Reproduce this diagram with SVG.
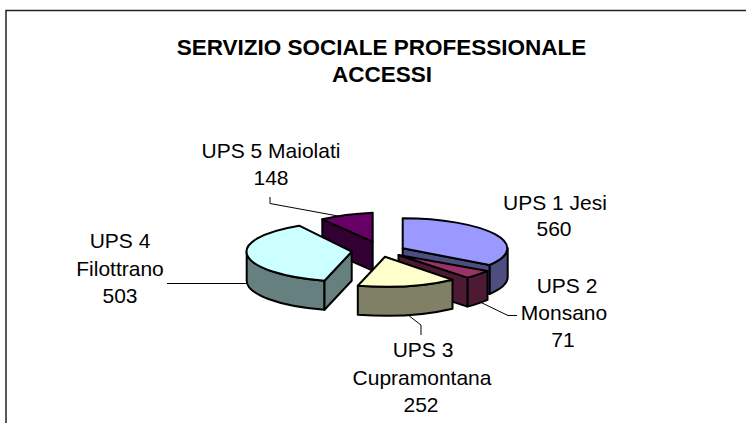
<svg xmlns="http://www.w3.org/2000/svg" width="746" height="423" viewBox="0 0 746 423">
<style>
  .t{font-family:"Liberation Sans",Arial,sans-serif;font-size:21px;fill:#000;text-anchor:middle}
  .title{font-family:"Liberation Sans",Arial,sans-serif;font-size:22.5px;font-weight:bold;fill:#000;text-anchor:middle}
  .f{stroke:#000;stroke-width:2;stroke-linejoin:round}
  .ld{fill:none;stroke:#000;stroke-width:1}
</style>
<rect x="0" y="0" width="746" height="423" fill="#fff"/>
<rect x="6" y="10.5" width="800" height="500" fill="#fff" stroke="#222" stroke-width="1.5"/>
<g id="title">
  <text class="title" x="381.5" y="55">SERVIZIO SOCIALE PROFESSIONALE</text>
  <text class="title" x="382" y="82">ACCESSI</text>
</g>
<g id="ups5">
  <path class="f" fill="#330033" d="M322.3,219.3 L372.7,241.7 L372.7,270.7 L322.3,248.3 Z"/>
  <path class="f" fill="#660066" d="M372.7,241.7 L322.3,219.3 A105,30 0 0,1 372.7,212.7 Z"/>
</g>
<g id="ups1">
  <path class="f" fill="#4d4d80" d="M507.7,248.3 A105,30 0 0,1 489.5,265 L489.5,294 A105,30 0 0,0 507.7,277.3 Z"/>
  <path class="f" fill="#4d4d80" d="M402.7,248.3 L489.5,265 L489.5,294 L402.7,277.3 Z"/>
  <path class="f" fill="#9999ff" d="M402.7,248.3 L402.7,218.3 A105,30 0 0,1 489.5,265 Z"/>
</g>
<g id="ups4">
  <path class="f" fill="#668080" d="M324.5,280.7 A105,30 0 0,1 246.7,251.7 L246.7,280.7 A105,30 0 0,0 324.5,309.7 Z"/>
  <path class="f" fill="#668080" d="M351.7,251.7 L324.5,280.7 L324.5,309.7 L351.7,280.7 Z"/>
  <path class="f" fill="#ccffff" d="M351.7,251.7 L324.5,280.7 A105,30 0 0,1 299.2,225.7 Z"/>
</g>
<g id="ups2">
  <path class="f" fill="#4d1a33" d="M487.5,270.9 A105,30 0 0,1 467.4,277.6 L467.4,306.6 A105,30 0 0,0 487.5,299.9 Z"/>
  <path class="f" fill="#4d1a33" d="M398.5,255 L467.4,277.6 L467.4,306.6 L398.5,284 Z"/>
  <path class="f" fill="#993366" d="M398.5,255 L487.5,270.9 A105,30 0 0,1 467.4,277.6 Z"/>
</g>
<g id="ups3">
  <path class="f" fill="#808066" d="M452.5,279.7 A105,30 0 0,1 357.8,285.7 L357.8,314.7 A105,30 0 0,0 452.5,308.7 Z"/>
  <path class="f" fill="#ffffcc" d="M385,256.7 L452.5,279.7 A105,30 0 0,1 357.8,285.7 Z"/>
</g>
<g id="connectors">
  <path class="ld" d="M270,197 V203.5 L338,216"/>
  <path class="ld" d="M167,283.5 H247"/>
  <path class="ld" d="M480,302 L508,315.5 H517"/>
  <path class="ld" d="M408,315 L421,325 V335"/>
</g>
<g id="labels">
  <text class="t" x="271" y="158">UPS 5 Maiolati</text>
  <text class="t" x="271" y="185">148</text>
  <text class="t" x="555" y="210">UPS 1 Jesi</text>
  <text class="t" x="554" y="236">560</text>
  <text class="t" x="567" y="293">UPS 2</text>
  <text class="t" x="564" y="320">Monsano</text>
  <text class="t" x="563" y="347">71</text>
  <text class="t" x="423" y="357">UPS 3</text>
  <text class="t" x="422" y="385">Cupramontana</text>
  <text class="t" x="421" y="412">252</text>
  <text class="t" x="120" y="248">UPS 4</text>
  <text class="t" x="120" y="276">Filottrano</text>
  <text class="t" x="120" y="303">503</text>
</g>
</svg>
